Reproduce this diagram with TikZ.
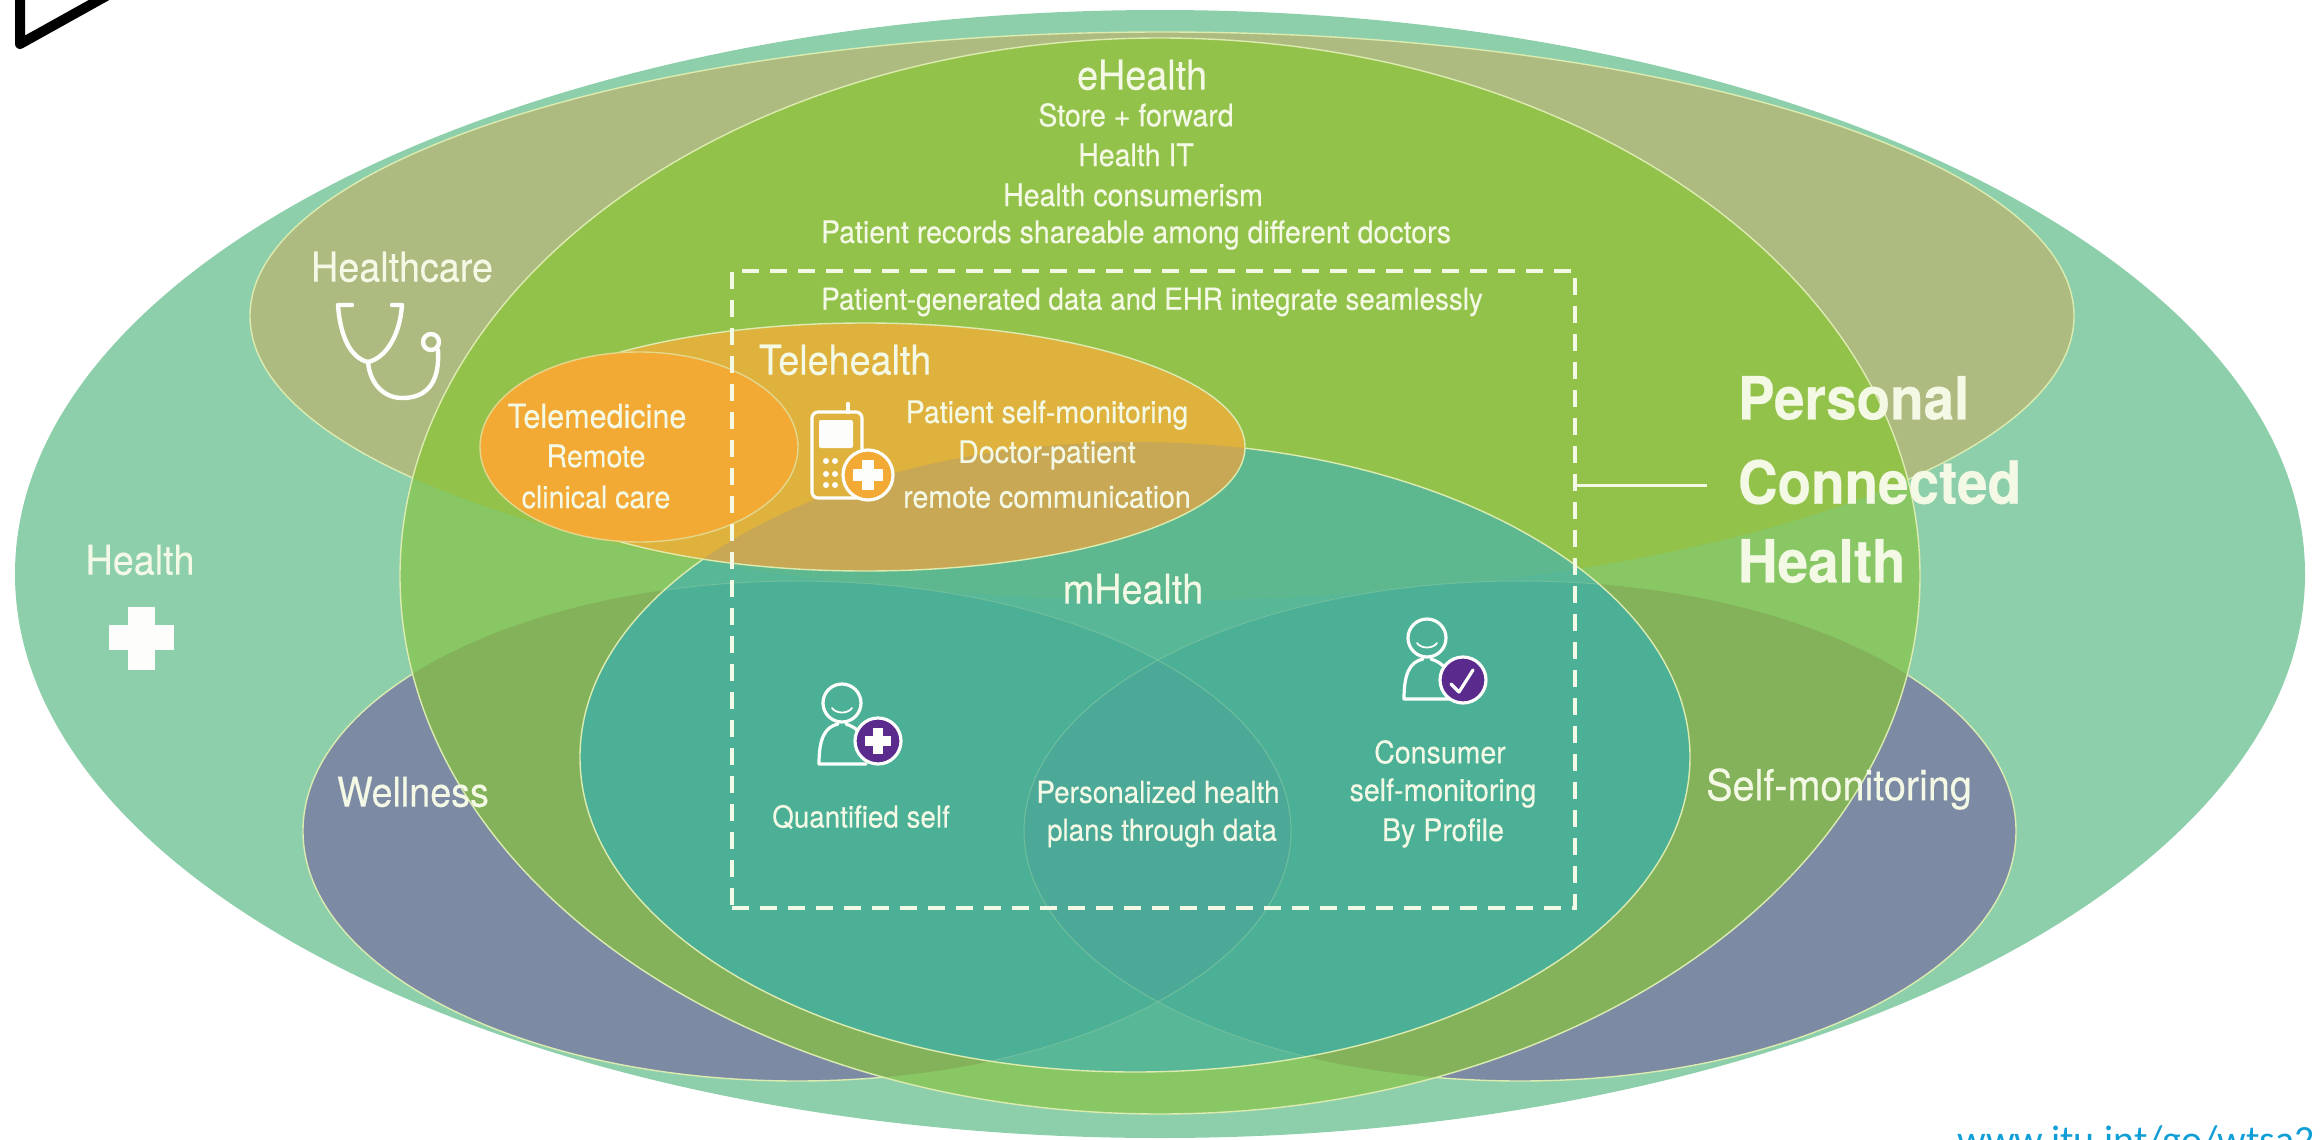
\documentclass[tikz,border=0pt]{standalone}
\usepackage{fontspec}
\setmainfont[FakeStretch=0.92,FakeBold=0.3]{TeX Gyre Heros}
\newfontfamily\urlfont{Carlito}
\newcommand\fsz[1]{\fontsize{#1}{#1}\selectfont}
\definecolor{cHealth}{HTML}{8DCFAB}
\definecolor{cCare}{HTML}{AEBB80}
\definecolor{cWell}{HTML}{7C8BA3}
\definecolor{cE}{HTML}{88C764}
\definecolor{cEcare}{HTML}{93C24B}
\definecolor{cEwell}{HTML}{84B25A}
\definecolor{cM}{HTML}{57B796}
\definecolor{cMcare}{HTML}{5DB88F}
\definecolor{cMwell}{HTML}{4BB096}
\definecolor{cLens}{HTML}{4CA997}
\definecolor{cTele}{HTML}{DFB23E}
\definecolor{cTeleM}{HTML}{C8A854}
\definecolor{cMed}{HTML}{F2AA35}
\definecolor{cEdge}{HTML}{DCEBB0}
\definecolor{cTxt}{HTML}{F4F9E6}
\definecolor{cPurple}{HTML}{5A2A8C}
\definecolor{cUrl}{HTML}{0F9ED5}
\def\eHealthEll{(1160,576) ellipse [x radius=760,y radius=538]}
\def\healthEll{(1160,574) ellipse [x radius=1145,y radius=564]}
\def\careEll{(1162,316) ellipse [x radius=912,y radius=284]}
\def\wellEll{(797,831) ellipse [x radius=494,y radius=250]}
\def\selfEll{(1520,831) ellipse [x radius=496,y radius=250]}
\def\mEll{(1135,757) ellipse [x radius=555,y radius=315]}
\def\teleEll{(865,447) ellipse [x radius=380,y radius=124]}
\def\medEll{(639,447) ellipse [x radius=159,y radius=95]}
\tikzset{
  x=0.5pt,y=-0.5pt,
  edge/.style={draw=cEdge,line width=0.7pt},
  faint/.style={draw=cEdge!25!cMwell,line width=0.5pt},
  lbl/.style={text=cTxt,inner sep=0pt,outer sep=0pt,align=center,font=\fsz{15.5}},
  lbls/.style={lbl,font=\fsz{15.1}},
  lblm/.style={lbl,font=\fsz{20.5}},
  lblb/.style={lbl,font=\fsz{29.8}\bfseries,anchor=west},
  icon/.style={draw=white!95!cEdge,line width=2.2pt,line cap=round,line join=round},
  iconthin/.style={icon,line width=1.6pt},
  whitefill/.style={fill=white!95!cEdge},
  dashbox/.style={draw=cTxt,line width=1.6pt,dash pattern=on 8.5pt off 5.5pt,inner sep=0pt,outer sep=0pt,minimum width=421.5pt,minimum height=318.5pt},
}
\begin{document}
\begin{tikzpicture}
\useasboundingbox (0,0) rectangle (2320,1140);
\begin{scope}
\clip (0,0) rectangle (2320,1140);
% base ellipses
\fill[cHealth] \healthEll;
\fill[cCare] \careEll; \draw[edge] \careEll;
\fill[cWell] \wellEll; \draw[edge] \wellEll;
\fill[cWell] \selfEll; \draw[edge] \selfEll;
% eHealth
\begin{scope}
\clip \eHealthEll;
\fill[cE] \eHealthEll;
\fill[cEcare] \careEll;
\fill[cEwell] \wellEll;
\fill[cEwell] \selfEll;
\end{scope}
\draw[edge] \eHealthEll;
% mHealth
\begin{scope}
\clip \mEll;
\fill[cM] \mEll;
\fill[cMcare] \careEll;
\fill[cMwell] \wellEll;
\fill[cMwell] \selfEll;
\begin{scope}
\clip \wellEll;
\fill[cLens] \selfEll;
\end{scope}
\draw[faint] \wellEll;
\draw[faint] \selfEll;
\end{scope}
\draw[edge] \mEll;
% Telehealth
\fill[cTele] \teleEll;
\begin{scope}
\clip \teleEll;
\fill[cTeleM] \mEll;
\end{scope}
\draw[edge] \teleEll;
\fill[cMed] \medEll; \draw[edge,draw=cEdge!70!cMed] \medEll;
% black mark
\draw[black,line width=5pt,line cap=round,line join=round] (20,-10) -- (20,44) -- (117,-10);
% url
\node[anchor=base west,inner sep=0pt,text=cUrl,font=\urlfont\fsz{20}] (url) at (1957,1153) {www.itu.int/go/wtsa2};
\end{scope}

% dashed box and connector
\node[dashbox] (pchbox) at (1153.5,589.5) {};
\coordinate (pchend) at (1707,485);
\draw[cTxt,line width=1.5pt] (pchbox.east |- pchend) -- (pchend);

% texts
\node[lblm] (health) at (140,560) {Health};
\node[lblm] (care) at (402,267) {Healthcare};
\node[lblm] (ehealth) at (1142,75) {eHealth};
\node[lbl] (store) at (1136,115) {Store + forward};
\node[lbl] (hit) at (1136,155) {Health IT};
\node[lbl] (cons) at (1133,195) {Health consumerism};
\node[lbl] (rec) at (1136,235) {Patient records shareable among different doctors};
\node[lbls] (gen) at (1152,302) {Patient-generated data and EHR integrate seamlessly};
\node[lblm] (tele) at (845,360) {Telehealth};
\node[lbl] (psm) at (1047,415) {Patient self-monitoring};
\node[lbl] (dp) at (1047,455) {Doctor-patient};
\node[lbl] (rc) at (1047,497) {remote communication};
\node[lbl,font=\fsz{16.6}] (tm) at (597,416) {Telemedicine};
\node[lbl] (rem) at (596,456) {Remote};
\node[lbl] (cc) at (596,497) {clinical care};
\node[lblm] (mh) at (1133,589) {mHealth};
\node[lbls] (qs) at (861,817) {Quantified self};
\node[lbls] (ph) at (1158,792) {Personalized health};
\node[lbls] (pt) at (1162,833) {plans through data};
\node[lbl] (cns) at (1440,752) {Consumer};
\node[lbl] (csm) at (1443,793) {self-monitoring};
\node[lbl] (bp) at (1443,833) {By Profile};
\node[lbl,font=\fsz{20.5}] (well) at (413,792) {Wellness};
\node[lbl,font=\fsz{21.5}] (selfm) at (1839,789) {Self-monitoring};
\node[lblb] (pers) at (1738,398) {Personal};
\node[lblb] (conn) at (1738,482) {Connected};
\node[lblb] (hlth) at (1738,561) {Health};

% Health cross
\fill[whitefill] (109,625) rectangle (174,650);
\fill[whitefill] (128,607) rectangle (155,670);

% stethoscope
\draw[icon] (352,305) -- (338,305) .. controls (340,335) and (350,358) .. (368,362)
  .. controls (386,358) and (400,335) .. (402,305) -- (392,305);
\draw[icon] (368,362) .. controls (370,385) and (385,398) .. (402,398)
  .. controls (425,398) and (440,385) .. (438,350);
\draw[icon] (431,342) circle [radius=8];

% phone
\draw[iconthin,fill=cTele,rounded corners=3pt] (812,412) rectangle (862,498);
\fill[whitefill,rounded corners=1pt] (819,420) rectangle (853,448);
\draw[icon] (848,412) -- (848,404);
\foreach \px in {826,835} \foreach \py in {461,474,485} \fill[whitefill] (\px,\py) circle [radius=3];
\draw[iconthin,fill=cMed] (868,475) circle [radius=25];
\fill[whitefill] (853,469) rectangle (883,481);
\fill[whitefill] (862,460) rectangle (874,490);

% user plus
\draw[iconthin] (842,703) circle [radius=19];
\draw[iconthin,line width=0.9pt] (832,708) .. controls (836,714) and (848,714) .. (852,708);
\draw[iconthin] (838,724) .. controls (825,727) and (819,738) .. (819,764) -- (866,764);
\draw[iconthin] (846,724) .. controls (852,726) and (857,729) .. (860,733);
\draw[iconthin,fill=cPurple] (878,741) circle [radius=23];
\fill[whitefill] (865,736) rectangle (891,746);
\fill[whitefill] (873,728) rectangle (883,754);

% user check
\draw[iconthin] (1427,638) circle [radius=19];
\draw[iconthin,line width=0.9pt] (1417,643) .. controls (1421,649) and (1433,649) .. (1437,643);
\draw[iconthin] (1423,659) .. controls (1410,662) and (1404,673) .. (1404,699) -- (1451,699);
\draw[iconthin] (1431,659) .. controls (1437,661) and (1442,664) .. (1445,668);
\draw[iconthin,fill=cPurple] (1463,680) circle [radius=23];
\draw[iconthin] (1451,684) -- (1459,692) -- (1473,670);
\end{tikzpicture}
\end{document}
